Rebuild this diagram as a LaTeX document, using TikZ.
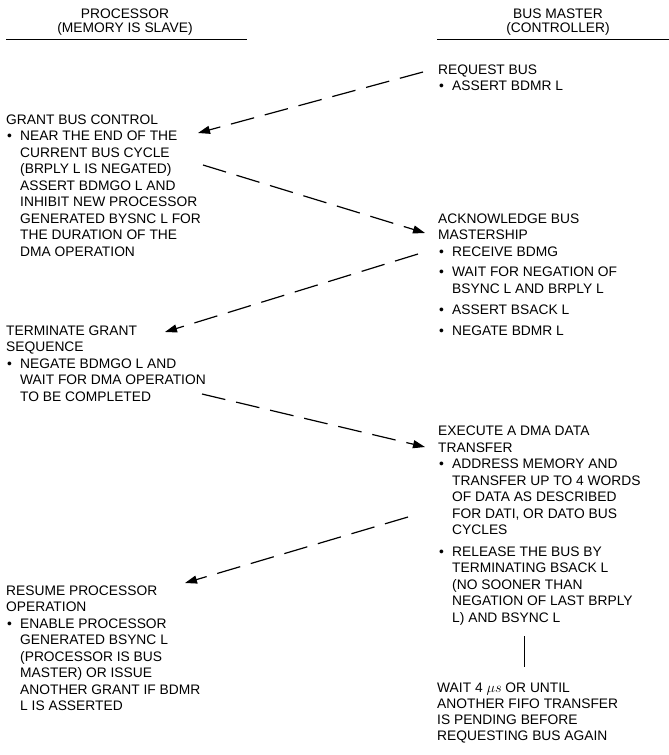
\documentclass[tikz,border=0pt]{standalone}
\usepackage{fontspec}
\setmainfont{Liberation Sans}
\usetikzlibrary{arrows.meta}
\newcommand\bodyfont{\fontsize{13.8pt}{16.5pt}\selectfont}
\newcommand\headfont{\fontsize{13.8pt}{14pt}\selectfont}
\newcommand\waitfont{\fontsize{13.8pt}{16pt}\selectfont}
\newcommand\mybul{\makebox[14pt][l]{\hspace{1pt}\textbullet}}
\newcommand\myind{\hspace*{14pt}}
\begin{document}
\begin{tikzpicture}[x=1pt,y=-1pt,
  txt/.style={anchor=base west,inner sep=0pt,font=\bodyfont},
  head/.style={anchor=base,inner sep=0pt,font=\headfont},
  rule/.style={line width=1.3pt},
  flow/.style={dash pattern=on 24pt off 11pt,line width=1.2pt,-{Triangle[length=12pt,width=8pt]}},
  link/.style={line width=1.2pt}]
\fill[white] (0,0) rectangle (669,755);
\useasboundingbox (0,0) rectangle (669,755);

% headers
\node[head] (hp) at (125,18.3) {\begin{tabular}[t]{@{}c@{}}PROCESSOR\\(MEMORY IS SLAVE)\end{tabular}};
\node[head] (hb) at (558,18.3) {\begin{tabular}[t]{@{}c@{}}BUS MASTER\\(CONTROLLER)\end{tabular}};
\coordinate (lpa) at (6,39.3); \coordinate (lpb) at (247,39.3);
\coordinate (lba) at (437,39.3); \coordinate (lbb) at (669,39.3);
\draw[rule] (lpa) -- (lpb);
\draw[rule] (lba) -- (lbb);

% bus master column
\node[txt] (req) at (438,74) {\begin{tabular}[t]{@{}l@{}}REQUEST BUS\\ \mybul ASSERT BDMR L\end{tabular}};

\node[txt] (ack) at (438,223) {\begin{tabular}[t]{@{}l@{}}ACKNOWLEDGE BUS\\
MASTERSHIP\\
\mybul RECEIVE BDMG\\[4.4pt]
\mybul WAIT FOR NEGATION OF\\
\myind BSYNC L AND BRPLY L\\[4.4pt]
\mybul ASSERT BSACK L\\[4.4pt]
\mybul NEGATE BDMR L\end{tabular}};

\node[txt] (exe) at (438,435.7) {\begin{tabular}[t]{@{}l@{}}EXECUTE A DMA DATA\\
TRANSFER\\
\mybul ADDRESS MEMORY AND\\
\myind TRANSFER UP TO 4 WORDS\\
\myind OF DATA AS DESCRIBED\\
\myind FOR DATI, OR DATO BUS\\
\myind CYCLES\\[5pt]
\mybul RELEASE THE BUS BY\\
\myind TERMINATING BSACK L\\
\myind (NO SOONER THAN\\
\myind NEGATION OF LAST BRPLY\\
\myind L) AND BSYNC L\end{tabular}};

\node[txt,font=\waitfont] (wait) at (437,692.3) {\begin{tabular}[t]{@{}l@{}}WAIT 4 $\mu s$ OR UNTIL\\
ANOTHER FIFO TRANSFER\\
IS PENDING BEFORE\\
REQUESTING BUS AGAIN\end{tabular}};

% processor column
\node[txt] (grant) at (6,124) {\begin{tabular}[t]{@{}l@{}}GRANT BUS CONTROL\\
\mybul NEAR THE END OF THE\\
\myind CURRENT BUS CYCLE\\
\myind (BRPLY L IS NEGATED)\\
\myind ASSERT BDMGO L AND\\
\myind INHIBIT NEW PROCESSOR\\
\myind GENERATED BYSNC L FOR\\
\myind THE DURATION OF THE\\
\myind DMA OPERATION\end{tabular}};

\node[txt] (term) at (6,335) {\begin{tabular}[t]{@{}l@{}}TERMINATE GRANT\\
SEQUENCE\\
\mybul NEGATE BDMGO L AND\\
\myind WAIT FOR DMA OPERATION\\
\myind TO BE COMPLETED\end{tabular}};

\node[txt] (res) at (6,595) {\begin{tabular}[t]{@{}l@{}}RESUME PROCESSOR\\
OPERATION\\
\mybul ENABLE PROCESSOR\\
\myind GENERATED BSYNC L\\
\myind (PROCESSOR IS BUS\\
\myind MASTER) OR ISSUE\\
\myind ANOTHER GRANT IF BDMR\\
\myind L IS ASSERTED\end{tabular}};

% connector end points
\coordinate (a1s) at (423,72);  \coordinate (a1e) at (198,133);
\coordinate (a2s) at (203,165); \coordinate (a2e) at (425,233);
\coordinate (a3s) at (418,254); \coordinate (a3e) at (165,332);
\coordinate (a4s) at (202,394); \coordinate (a4e) at (425,447);
\coordinate (a5s) at (408,517); \coordinate (a5e) at (185,583);
\coordinate (vt) at (524.5,636); \coordinate (vb) at (524.5,667);

\draw[flow] (a1s) -- (a1e);
\draw[flow] (a2s) -- (a2e);
\draw[flow] (a3s) -- (a3e);
\draw[flow] (a4s) -- (a4e);
\draw[flow] (a5s) -- (a5e);
\draw[link] (vt) -- (vb);
\end{tikzpicture}
\end{document}
